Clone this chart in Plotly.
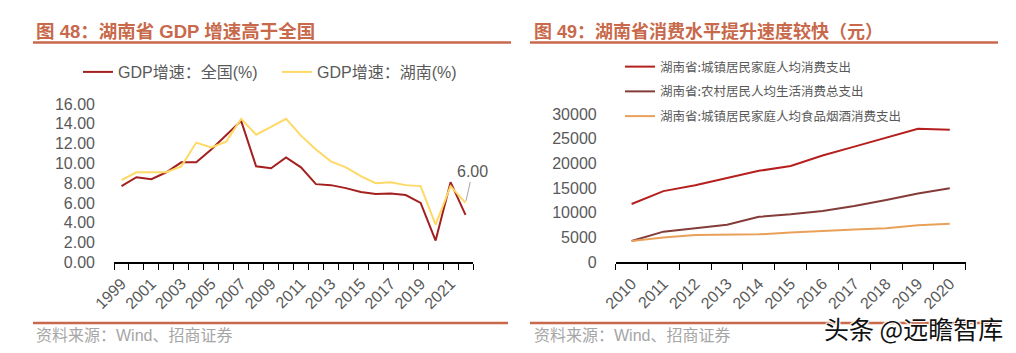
import plotly.graph_objects as go

# ---------------- data ----------------
years_gdp = list(range(1999, 2023))
gdp_national = [7.7, 8.6, 8.4, 9.1, 10.1, 10.1, 11.4, 12.8, 14.3, 9.7, 9.5, 10.6, 9.6, 7.9, 7.8, 7.5, 7.1, 6.9, 6.95, 6.8, 6.0, 2.2, 8.1, 4.8]
gdp_hunan = [8.3, 9.1, 9.1, 9.1, 9.7, 12.1, 11.6, 12.2, 14.5, 12.9, 13.7, 14.5, 12.8, 11.4, 10.2, 9.6, 8.7, 8.0, 8.1, 7.8, 7.7, 3.8, 7.7, 6.0]
gdp_tick_years = list(range(1999, 2022, 2))
gdp_yticks = [0, 2, 4, 6, 8, 10, 12, 14, 16]

years_cons = list(range(2010, 2021))
urban_consumption = [11800, 14400, 15600, 17000, 18500, 19500, 21600, 23400, 25200, 27000, 26800]
rural_consumption = [4300, 6200, 6900, 7600, 9200, 9700, 10400, 11400, 12600, 13900, 15000]
urban_food = [4300, 5000, 5500, 5650, 5650, 6050, 6400, 6650, 6900, 7500, 7800]
cons_yticks = [0, 5000, 10000, 15000, 20000, 25000, 30000]

names_gdp = ["GDP增速：全国(%)", "GDP增速：湖南(%)"]
names_cons = ["湖南省:城镇居民家庭人均消费支出", "湖南省:农村居民人均生活消费总支出", "湖南省:城镇居民家庭人均食品烟酒消费支出"]

# ---------------- geometry helpers ----------------
W, H = 1016, 353
def px(x):
    return x / W
def py(y):
    return 1 - y / H

FONT = "Liberation Sans, Arial, Noto Sans CJK SC, sans-serif"
CJK = "Noto Sans CJK SC, sans-serif"
TITLE_COLOR = "#C8694B"
TICK_COLOR = "#595959"

fig = go.Figure()

fig.add_trace(go.Scatter(x=years_gdp, y=gdp_national, mode="lines", name=names_gdp[0],
                         line=dict(color="#A3201F", width=2), xaxis="x", yaxis="y", legend="legend"))
fig.add_trace(go.Scatter(x=years_gdp, y=gdp_hunan, mode="lines", name=names_gdp[1],
                         line=dict(color="#FFD966", width=2), xaxis="x", yaxis="y", legend="legend"))

cons_colors = ["#B5201F", "#843C39", "#E9A15A"]
for i, (nm, vals) in enumerate(zip(names_cons, [urban_consumption, rural_consumption, urban_food])):
    fig.add_trace(go.Scatter(x=years_cons, y=vals, mode="lines", name=nm,
                             line=dict(color=cons_colors[i], width=2), xaxis="x2", yaxis="y2",
                             legend="legend2", legendgroup=f"g{i}"))

axis_font = dict(family=FONT, size=16, color=TICK_COLOR)

fig.update_layout(
    width=W, height=H,
    margin=dict(l=0, r=0, t=0, b=0, autoexpand=False),
    paper_bgcolor="white", plot_bgcolor="white",
    font=dict(family=FONT, color=TICK_COLOR),
    xaxis=dict(domain=[px(114), px(473)], range=[1998.5, 2022.5],
               tickmode="array", tickvals=gdp_tick_years, ticktext=[str(y) for y in gdp_tick_years],
               tickangle=-45, ticks="", showgrid=False, zeroline=False,
               showline=True, linecolor="black", linewidth=1.5,
               tickfont=axis_font, ticklabelstandoff=4,
               minor=dict(tickmode="array", tickvals=[y - 0.5 for y in years_gdp] + [years_gdp[-1] + 0.5],
                          ticks="outside", ticklen=6, tickcolor="black", tickwidth=1, showgrid=False)),
    yaxis=dict(domain=[py(262.3), py(104)], range=[0, 16],
               tickmode="array", tickvals=gdp_yticks, ticktext=[f"{v:.2f}" for v in gdp_yticks],
               showgrid=False, zeroline=False, showline=False, ticks="",
               tickfont=axis_font, ticklabelstandoff=18),
    xaxis2=dict(domain=[px(615.7), px(965.7)], range=[2009.5, 2020.5],
                tickmode="array", tickvals=years_cons, ticktext=[str(y) for y in years_cons],
                tickangle=-45, ticks="", showgrid=False, zeroline=False,
                showline=True, linecolor="black", linewidth=1.5,
                tickfont=axis_font, ticklabelstandoff=4, anchor="y2",
                minor=dict(tickmode="array", tickvals=[y - 0.5 for y in years_cons] + [years_cons[-1] + 0.5],
                           ticks="outside", ticklen=6, tickcolor="black", tickwidth=1, showgrid=False)),
    yaxis2=dict(domain=[py(262.3), py(114)], range=[0, 30000], anchor="x2",
                tickmode="array", tickvals=cons_yticks, ticktext=[str(v) for v in cons_yticks],
                showgrid=False, zeroline=False, showline=False, ticks="",
                tickfont=axis_font, ticklabelstandoff=18),
    legend=dict(orientation="h", x=px(78), y=py(55), xanchor="left", yanchor="top",
                font=dict(family=FONT, size=16, color=TICK_COLOR),
                entrywidth=154, entrywidthmode="pixels", bgcolor="rgba(0,0,0,0)",
                itemwidth=30, tracegroupgap=0),
    legend2=dict(orientation="v", x=px(620), y=py(52), xanchor="left", yanchor="top",
                 font=dict(family=CJK, size=12.5, color=TICK_COLOR),
                 traceorder="grouped", tracegroupgap=5.5, bgcolor="rgba(0,0,0,0)", itemwidth=30),
    showlegend=True,
)

# Title underline / bottom rules
rule = dict(color=TITLE_COLOR, width=2.5)
shapes = [
    dict(type="line", xref="paper", yref="paper", x0=px(33), x1=px(511), y0=py(42.5), y1=py(42.5), line=rule),
    dict(type="line", xref="paper", yref="paper", x0=px(530), x1=px(998), y0=py(42.5), y1=py(42.5), line=rule),
    dict(type="line", xref="paper", yref="paper", x0=px(33), x1=px(508), y0=py(323), y1=py(323), line=rule),
    dict(type="line", xref="paper", yref="paper", x0=px(530), x1=px(998), y0=py(323), y1=py(323), line=rule),
]
fig.update_layout(shapes=shapes)

annotations = [
    dict(text="<b>图 48：湖南省 GDP 增速高于全国</b>", xref="paper", yref="paper", x=px(34), y=py(31),
         xanchor="left", yanchor="middle", showarrow=False,
         font=dict(family=FONT, size=18.5, color=TITLE_COLOR)),
    dict(text="<b>图 49：湖南省消费水平提升速度较快（元）</b>", xref="paper", yref="paper", x=px(532), y=py(31),
         xanchor="left", yanchor="middle", showarrow=False,
         font=dict(family=FONT, size=18, color=TITLE_COLOR)),
    dict(text="资料来源：Wind、招商证券", xref="paper", yref="paper", x=px(34), y=py(335),
         xanchor="left", yanchor="middle", showarrow=False,
         font=dict(family=FONT, size=16, color="#A6A6A6")),
    dict(text="资料来源：Wind、招商证券", xref="paper", yref="paper", x=px(532), y=py(335),
         xanchor="left", yanchor="middle", showarrow=False,
         font=dict(family=FONT, size=16, color="#A6A6A6")),
    dict(text="6.00", x=years_gdp[-1], y=gdp_hunan[-1], xref="x", yref="y",
         showarrow=True, arrowhead=0, arrowwidth=1, arrowcolor="#A6A6A6",
         ax=7, ay=-31, font=dict(family=FONT, size=16, color=TICK_COLOR), standoff=2),
    dict(text="头条 @远瞻智库", xref="paper", yref="paper", x=px(1005), y=py(328),
         xanchor="right", yanchor="middle", showarrow=False,
         font=dict(family=CJK, size=25, color="#111111",
                   shadow="1px 1px 1px white, -1px -1px 1px white, 1px -1px 1px white, -1px 1px 1px white")),
]
fig.update_layout(annotations=annotations)

fig.write_html("out.html")
